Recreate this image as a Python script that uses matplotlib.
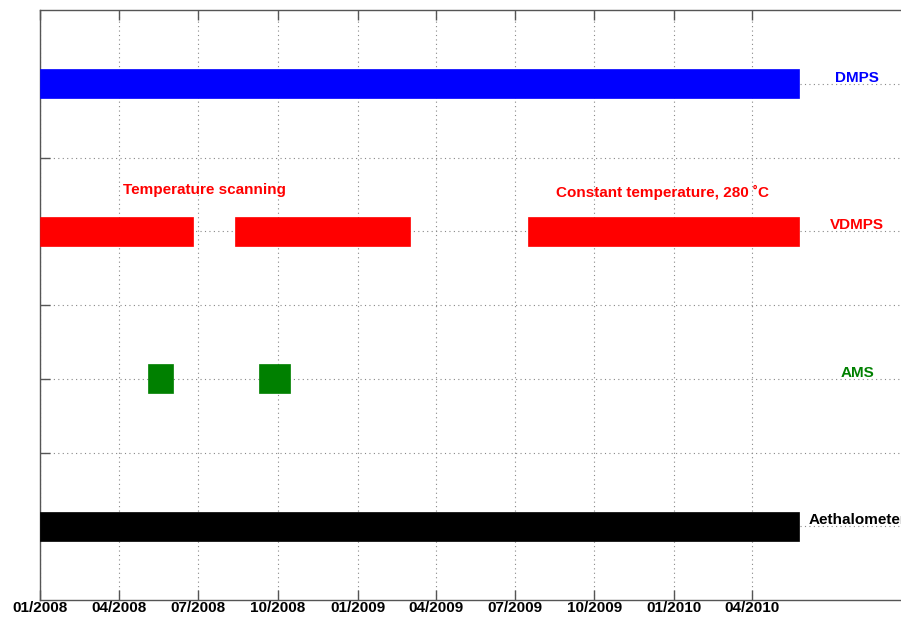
import matplotlib

matplotlib.use("Agg")
import matplotlib.dates as mdates
import matplotlib.pyplot as plt
import numpy as np

plt.rcParams["font.family"] = ["Liberation Sans", "DejaVu Sans"]
plt.rcParams["font.weight"] = "bold"

# Instruments (label, row position, colour) and measurement periods.
INSTRUMENTS = ["DMPS", "VDMPS", "AMS", "Aethalometer"]
ROWS = [7, 5, 3, 1]
COLORS = ["#0000ff", "#ff0000", "#008000", "#000000"]
PERIODS = [
    [("2008-01-01", "2010-05-25")],
    [("2008-01-01", "2008-06-25"), ("2008-08-13", "2009-03-02"),
     ("2009-07-16", "2010-05-25")],
    [("2008-05-05", "2008-06-02"), ("2008-09-09", "2008-10-15")],
    [("2008-01-01", "2010-05-25")],
]
NOTES = [("Temperature scanning", "2008-04-06", 5.56),
         ("Constant temperature, 280 \u02daC", "2009-08-18", 5.52)]
LABEL_X = "2010-07-31"
TICK_DATES = ["2008-01-01", "2008-04-01", "2008-07-01", "2008-10-01",
              "2009-01-01", "2009-04-01", "2009-07-01", "2009-10-01",
              "2010-01-01", "2010-04-01"]
XLIM = ("2008-01-01", "2010-10-01")


def d(s):
    return mdates.date2num(np.datetime64(s))


fig = plt.figure(figsize=(9.01, 6.20), dpi=100)
ax = fig.add_axes([40 / 901, 20 / 620, 871 / 901, 590 / 620])

for name, row, color, periods in zip(INSTRUMENTS, ROWS, COLORS, PERIODS):
    for start, end in periods:
        ax.barh(row, d(end) - d(start), left=d(start), height=0.39,
                color=color, edgecolor=color, linewidth=0.5, zorder=3)
    ax.text(d(LABEL_X), row + 0.027, name, color=color, fontsize=11,
            fontweight="bold", ha="center", va="baseline", zorder=4)

for text, x, y in NOTES:
    ax.text(d(x), y, text, color="#ff0000", fontsize=11, fontweight="bold",
            ha="left", va="center", zorder=4)

ax.set_xlim(d(XLIM[0]), d(XLIM[1]))
ax.set_ylim(0, 8)
ax.set_xticks([d(t) for t in TICK_DATES])
ax.xaxis.set_major_formatter(mdates.DateFormatter("%m/%Y"))
ax.set_yticks(np.arange(1, 8))
ax.set_yticklabels([])
ax.tick_params(axis="both", direction="in", length=7, width=1,
               color="#555555", top=True, labelsize=11, pad=1)
for lab in ax.get_xticklabels():
    lab.set_fontweight("bold")
ax.grid(True, color="#888888", linestyle=(0, (1, 3)), linewidth=0.8,
        zorder=1)
ax.set_axisbelow(True)
for side in ["left", "bottom", "top", "right"]:
    ax.spines[side].set_color("#555555")
    ax.spines[side].set_linewidth(1)

fig.savefig("out.png", dpi=100)
